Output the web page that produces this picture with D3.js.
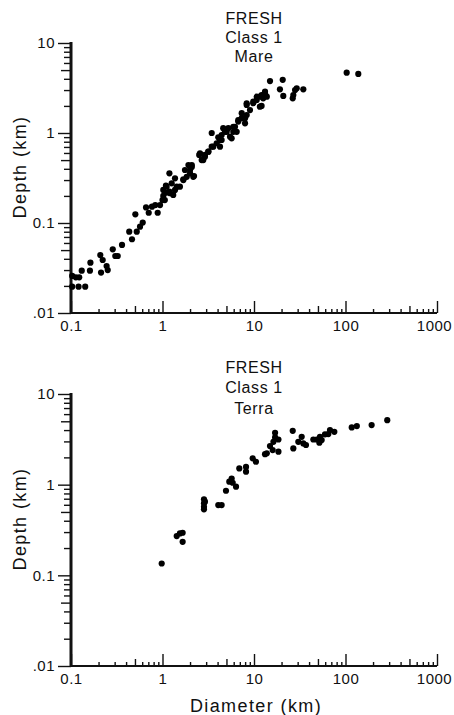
<!DOCTYPE html>
<html>
<head>
<meta charset="utf-8">
<script src="https://cdn.jsdelivr.net/npm/d3@7"></script>
<style>
    body { margin: 0; background: #fff; }
    svg text { font-family: "Liberation Sans", Arial, sans-serif; fill: #111; }
</style>
<script>
// crater diameter (km) / depth (km)
var mareDiameter = [0.103, 0.113, 0.123, 0.103, 0.121, 0.143, 0.131, 0.163, 0.161, 0.209, 0.222, 0.213, 0.245, 0.252,
    0.286, 0.305, 0.324, 0.361, 0.433, 0.464, 0.505, 0.523, 0.568, 0.608, 0.661, 0.707, 0.767, 0.834, 0.886, 1.0,
    1.09, 1.19, 1.02, 1.06, 0.94, 1.02, 1.11, 1.26, 1.31, 1.37, 1.19, 1.37, 1.69, 1.84, 2.0, 2.09, 2.21, 2.57,
    2.79, 2.91, 3.17, 3.45, 3.59, 3.91, 4.25, 4.43, 4.82, 5.24, 5.94, 6.2, 5.7, 6.73, 7.34, 7.98, 8.32, 8.32,
    9.04, 9.82, 10.7, 11.6, 12.1, 13.2, 1.09, 1.21, 1.43, 1.55, 1.69, 1.76, 1.92, 2.0, 2.17, 2.09, 2.52, 2.68,
    2.91, 3.17, 3.45, 4.07, 4.25, 4.43, 4.61, 5.03, 5.47, 5.94, 6.47, 6.73, 7.34, 7.98, 8.32, 9.82, 10.7, 11.6,
    12.1, 12.6, 13.2, 13.8, 14.96, 20.6, 19.2, 20.9, 26.5, 26.9, 28.1, 29.3, 34.6, 103, 138];
var mareDepth = [0.0258, 0.0249, 0.0249, 0.0196, 0.0196, 0.0196, 0.0295, 0.0362, 0.0295, 0.044, 0.0388, 0.0281, 0.0333, 0.030,
    0.051, 0.043, 0.043, 0.057, 0.080, 0.066, 0.125, 0.080, 0.091, 0.101, 0.149, 0.130, 0.152, 0.158, 0.130, 0.180,
    0.217, 0.223, 0.20, 0.18, 0.158, 0.233, 0.253, 0.276, 0.205, 0.233, 0.356, 0.314, 0.306, 0.326, 0.388, 0.44, 0.333, 0.594,
    0.50, 0.57, 0.62, 1.0, 0.705, 0.769, 0.836, 0.95, 1.03, 1.13, 1.03, 1.17, 0.873, 1.34, 1.46, 1.28, 1.58, 2.14,
    1.80, 2.23, 2.53, 1.96, 2.64, 2.88, 0.26, 0.214, 0.253, 0.253, 0.30, 0.388, 0.44, 0.356, 0.326, 0.42, 0.57, 0.50,
    0.546, 0.62, 0.705, 0.895, 0.705, 0.836, 1.13, 1.03, 0.91, 1.17, 1.03, 1.39, 1.66, 1.46, 2.05, 2.14, 2.33, 2.53,
    2.0, 2.43, 2.76, 2.53, 3.78, 3.9, 3.06, 2.58, 2.43, 2.64, 3.0, 3.14, 3.06, 4.68, 4.53];

var terraDiameter = [0.98, 1.43, 1.55, 1.66, 1.66, 2.84, 2.84, 2.84, 2.84, 2.91, 4.07, 4.43, 4.94, 5.37, 5.7, 5.85,
    6.36, 6.91, 8.18, 8.18, 9.68, 10.5, 13.2, 13.8, 14.96, 16.0, 17.0, 17.0, 18.5, 18.5, 16.3, 26.5, 26.9, 30.5,
    33.2, 34.6, 37.0, 44.5, 48.4, 51.8, 52.6, 54.9, 59.7, 64.9, 67.7, 75.5, 117, 133, 193, 286];
var terraDepth = [0.135, 0.271, 0.29, 0.295, 0.234, 0.69, 0.622, 0.57, 0.534, 0.65, 0.596, 0.596, 0.857, 1.08, 1.17, 1.05,
    0.95, 1.51, 1.39, 1.57, 1.95, 1.79, 2.17, 2.22, 2.67, 2.41, 3.73, 3.32, 3.15, 2.31, 2.97, 3.93, 2.51, 2.97,
    3.37, 2.85, 2.74, 3.15, 3.15, 2.90, 3.37, 3.10, 3.59, 3.61, 4.0, 3.83, 4.28, 4.43, 4.54, 5.15];

var xMajorTicks = [0.1, 1, 10, 100, 1000];
var xTickLabels = ["0.1", "1", "10", "100", "1000"];
var yMajorTicks = [0.01, 0.1, 1, 10];
var yTickLabels = [".01", "0.1", "1", "10"];
var mareTitle = ["FRESH", "Class 1", "Mare"];
var terraTitle = ["FRESH", "Class 1", "Terra"];

function mantissa(v) {
    return Math.round(v / Math.pow(10, Math.floor(Math.log10(v) + 1e-9)));
}

function drawPanel(svg, p) {
    var x = d3.scaleLog().domain([0.1, 1000]).range([71, 437]);
    var y = d3.scaleLog().domain([0.01, 10]).range([p.yBottom, p.yTop]);

    var xMinor = x.ticks().filter(v => mantissa(v) != 1);
    var yMinor = y.ticks().filter(v => mantissa(v) != 1);

    var g = svg.append("g");

    // x axis: ticks point up into the plot
    var xg = g.append("g").attr("transform", "translate(0," + p.yBottom + ")");
    xg.append("g").call(d3.axisBottom(x).tickValues(xMinor.filter(v => mantissa(v) == 5)).tickSize(-7).tickFormat(""));
    xg.append("g").call(d3.axisBottom(x).tickValues(xMinor.filter(v => mantissa(v) != 5)).tickSize(-4).tickFormat(""));
    xg.append("g").call(d3.axisBottom(x).tickValues(xMajorTicks).tickSize(-12).tickPadding(7)
                                        .tickFormat((d, i) => xTickLabels[i]));

    // y axis: ticks point out to the left
    var yg = g.append("g").attr("transform", "translate(71,0)");
    yg.append("g").call(d3.axisLeft(y).tickValues(yMinor.filter(v => mantissa(v) == 5)).tickSize(10).tickFormat(""));
    yg.append("g").call(d3.axisLeft(y).tickValues(yMinor.filter(v => mantissa(v) != 5)).tickSize(7).tickFormat(""));
    yg.append("g").call(d3.axisLeft(y).tickValues(yMajorTicks).tickSize(13).tickPadding(3)
                                      .tickFormat((d, i) => yTickLabels[i]));

    g.selectAll(".domain").remove();
    g.selectAll(".tick line").attr("stroke", "#111").attr("stroke-width", 1.4);
    g.selectAll(".tick text").attr("font-size", 15).attr("letter-spacing", 0.5)
                             .attr("font-family", "Liberation Sans, Arial, sans-serif");
    xg.selectAll(".tick text").filter(d => d == 1000).attr("dx", -3);

    g.append("line")
     .attr("x1", x(0.1)).attr("x2", x(1000))
     .attr("y1", p.yBottom).attr("y2", p.yBottom)
     .attr("stroke", "#111").attr("stroke-width", 2.2);
    g.append("line")
     .attr("x1", 71).attr("x2", 71)
     .attr("y1", y(10) - 1).attr("y2", p.yBottom + 1)
     .attr("stroke", "#111").attr("stroke-width", 3);

    g.append("g")
     .selectAll("circle").data(p.diam)
     .enter()
     .append("circle")
     .attr("cx", d => x(d))
     .attr("cy", (d, i) => y(p.depth[i]))
     .attr("r", 3.1)
     .attr("fill", "#000");

    g.append("g")
     .selectAll("text").data(p.title)
     .enter()
     .append("text")
     .attr("x", 254)
     .attr("y", (d, i) => p.titleY + i * p.titleStep)
     .attr("text-anchor", "middle")
     .attr("font-size", 16)
     .attr("letter-spacing", 0.6)
     .text(d => d);

    g.append("text")
     .attr("transform", "translate(26," + ((p.yTop + p.yBottom) / 2 - 11) + ") rotate(-90)")
     .attr("text-anchor", "middle")
     .attr("font-size", 18)
     .attr("letter-spacing", 1.4)
     .text("Depth (km)");

    if (p.xTitle) {
        g.append("text")
         .attr("x", 256)
         .attr("y", 712)
         .attr("text-anchor", "middle")
         .attr("font-size", 18)
         .attr("letter-spacing", 1.4)
         .text("Diameter (km)");
    }
}

function makeSVG() {
    var svg = d3.select("body").append("svg")
                               .attr("width", 454)
                               .attr("height", 715);

    drawPanel(svg, { yTop: 43, yBottom: 313, diam: mareDiameter, depth: mareDepth,
                     title: mareTitle, titleY: 24, titleStep: 19.2, xTitle: false });
    drawPanel(svg, { yTop: 394, yBottom: 666, diam: terraDiameter, depth: terraDepth,
                     title: terraTitle, titleY: 372.5, titleStep: 20.5, xTitle: true });
}
</script>
</head>
<body onload="makeSVG()">
</body>
</html>
